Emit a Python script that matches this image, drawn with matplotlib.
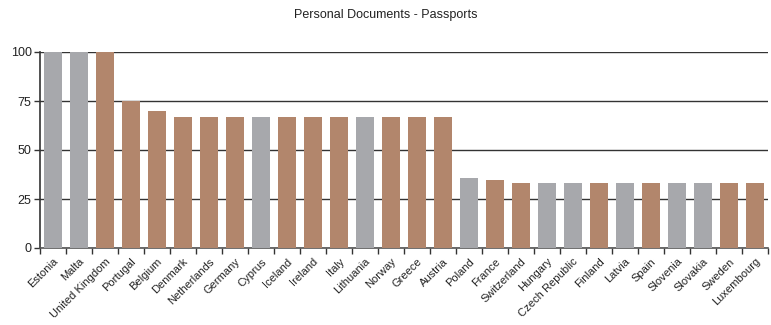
import numpy as np
import matplotlib.pyplot as plt

countries = ["Estonia", "Malta", "United Kingdom", "Portugal", "Belgium", "Denmark",
             "Netherlands", "Germany", "Cyprus", "Iceland", "Ireland", "Italy",
             "Lithuania", "Norway", "Greece", "Austria", "Poland", "France",
             "Switzerland", "Hungary", "Czech Republic", "Finland", "Latvia", "Spain",
             "Slovenia", "Slovakia", "Sweden", "Luxembourg"]
values = [100, 100, 100, 75, 70, 66.7, 66.7, 66.7, 66.7, 66.7, 66.7, 66.7,
          66.7, 66.7, 66.7, 66.7, 35.7, 34.7, 33.3, 33.3, 33.3, 33.3, 33.3, 33.3,
          33.3, 33.3, 33.3, 33.3]
# 2004 accession states are drawn grey
new_members = ["Estonia", "Malta", "Cyprus", "Lithuania", "Poland", "Hungary",
               "Czech Republic", "Latvia", "Slovenia", "Slovakia"]

plt.rcParams["font.family"] = ["Liberation Sans", "DejaVu Sans"]

grey = "#a7a8ac"
brown = "#b2866c"
colors = [grey if c in new_members else brown for c in countries]

fig = plt.figure(figsize=(7.71, 3.25), dpi=100)
ax = fig.add_axes([40 / 771, 1 - 248 / 325, 728 / 771, 196 / 325])

x = np.arange(len(countries))
ax.bar(x, values, width=0.66, color=colors, zorder=3)

ax.set_xlim(-0.5, len(countries) - 0.5)
ax.set_ylim(0, 100)
ax.set_yticks([0, 25, 50, 75, 100])
ax.set_yticklabels(["0", "25", "50", "75", "100"], fontsize=9, color="#222222")
ax.yaxis.grid(True, color="#333333", linewidth=1.0, zorder=1)

ax.set_xticks(np.arange(len(countries) + 1) - 0.5)
ax.set_xticklabels([])
ax.set_xticks(x, minor=True)
ax.set_xticklabels(countries, minor=True, rotation=45, ha="right",
                   rotation_mode="anchor", fontsize=8, color="#222222")
ax.tick_params(axis="x", which="minor", length=0, pad=6)
ax.tick_params(axis="x", which="major", length=4, width=1, color="#333333")
ax.tick_params(axis="y", length=4, width=1, color="#333333", pad=2)

for s in ["top", "right"]:
    ax.spines[s].set_visible(False)
ax.spines["left"].set_color("#333333")
ax.spines["bottom"].set_color("#555555")
ax.spines["left"].set_linewidth(1.2)
ax.spines["bottom"].set_linewidth(1.2)

fig.text(0.5, 1 - 15 / 325, "Personal Documents - Passports", ha="center", va="center",
         fontsize=9, color="#222222")

fig.savefig("out.png", dpi=100)
